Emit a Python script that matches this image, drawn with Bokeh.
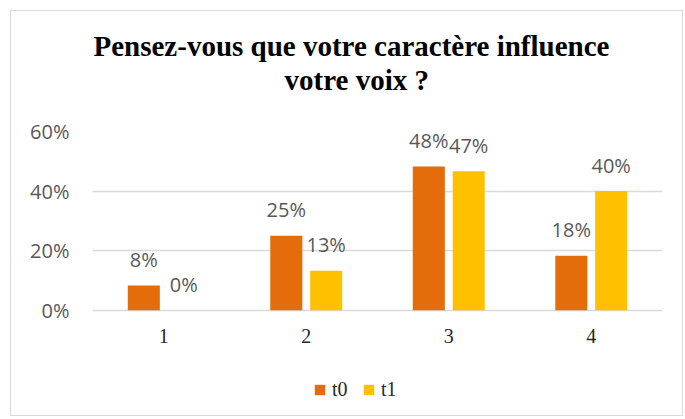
from bokeh.plotting import figure
from bokeh.models import (ColumnDataSource, FactorRange, Range1d, FixedTicker,
                          NumeralTickFormatter, Title, Legend, LegendItem)
from bokeh.transform import dodge
from bokeh.core.properties import value
from bokeh.embed import file_html
from bokeh.resources import INLINE

categories = ["1", "2", "3", "4"]
t0 = [0.083, 0.25, 0.483, 0.183]
t1 = [0.0, 0.133, 0.467, 0.40]
series_names = ["t0", "t1"]
y_ticks = [0.0, 0.2, 0.4, 0.6]
title_lines = ["Pensez-vous que votre caractère influence", "votre voix ?"]

def pct(v):
    return ["%d%%" % round(x * 100) for x in v]

src = ColumnDataSource(dict(cat=categories, t0=t0, t1=t1,
                            t0_lab=pct(t0), t1_lab=pct(t1),
                            base=[0.0] * len(categories)))

# frame extends below 0 so that the category labels and legend sit inside it
p = figure(x_range=FactorRange(*categories), y_range=Range1d(-0.336, 0.6),
           width=673, height=406, output_backend="svg", toolbar_location=None)
p.margin = (10, 0, 0, 10)
p.styles = {"border": "1px solid #d9d9d9"}
p.min_border_left = 81
p.min_border_right = 22
p.min_border_top = 120
p.min_border_bottom = 7
p.outline_line_color = None
p.background_fill_color = "white"
p.border_fill_color = "white"

C0, C1 = "#E46C0A", "#FFC000"
r0 = p.vbar(x=dodge("cat", -0.14, range=p.x_range), top="t0", width=0.225,
            source=src, fill_color=C0, line_color=None)
r1 = p.vbar(x=dodge("cat", 0.14, range=p.x_range), top="t1", width=0.225,
            source=src, fill_color=C1, line_color=None)

lab_font = value("Open Sans")
for off, col, lab in ((-0.14, "t0", "t0_lab"), (0.14, "t1", "t1_lab")):
    p.text(x=dodge("cat", off, range=p.x_range), y=col, text=lab, source=src,
           text_align="center", text_baseline="alphabetic", y_offset=-26,
           text_font=lab_font, text_font_size="20px", text_color="#595959")

# category labels under the 0% line
p.text(x="cat", y="base", text="cat", source=src, text_align="center",
       text_baseline="alphabetic", y_offset=26,
       text_font=value("Liberation Serif"), text_font_size="20px",
       text_color="#262626")

# axes
p.yaxis.ticker = FixedTicker(ticks=y_ticks)
p.yaxis.formatter = NumeralTickFormatter(format="0%")
p.yaxis.axis_line_color = None
p.yaxis.major_tick_line_color = None
p.yaxis.minor_tick_line_color = None
p.yaxis.major_label_standoff = 17
p.yaxis.major_label_text_font = "Open Sans"
p.yaxis.major_label_text_font_size = "20px"
p.yaxis.major_label_text_color = "#595959"
p.xaxis.visible = False

p.xgrid.grid_line_color = None
p.ygrid.grid_line_color = "#d9d9d9"
p.ygrid.grid_line_width = 1.5

# titles (first added is nearest the plot); a blank spacer sits below them
p.title = None
TF = "'Liberation Serif'"
spacer = Title(text=" ", text_font=TF, text_font_size="29px", standoff=2)
t2 = Title(text=title_lines[1], align="left", text_font=TF,
           text_font_size="29px", text_font_style="bold", text_color="black",
           offset=192, standoff=0)
t1t = Title(text=title_lines[0], align="left", text_font=TF,
            text_font_size="29px", text_font_style="bold", text_color="black",
            offset=1, standoff=0)
p.add_layout(spacer, "above")
p.add_layout(t2, "above")
p.add_layout(t1t, "above")

legend = Legend(items=[LegendItem(label=series_names[0], renderers=[r0]),
                       LegendItem(label=series_names[1], renderers=[r1])],
                orientation="horizontal", location=(221, 9),
                glyph_width=13, glyph_height=13, label_standoff=6, spacing=10,
                padding=0, margin=0, border_line_color=None,
                background_fill_alpha=0,
                label_text_font="Liberation Serif", label_text_font_size="20px",
                label_text_color="#262626")
p.add_layout(legend, "center")

open("out.html", "w").write(file_html(p, INLINE))
